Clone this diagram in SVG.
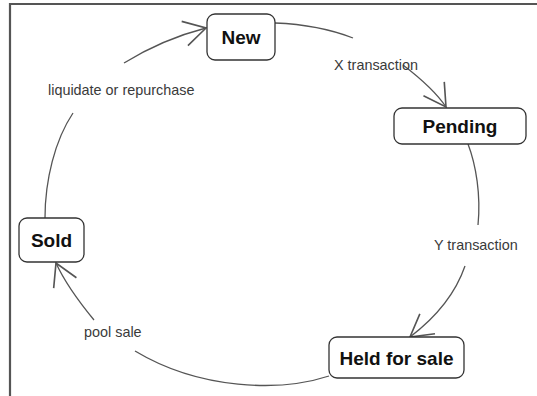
<svg xmlns="http://www.w3.org/2000/svg" width="537" height="396" viewBox="0 0 537 396">
<style>
.frame{stroke:#555;stroke-width:2.2;fill:none}
.box{fill:#fff;stroke:#333;stroke-width:1.3}
.nt{font-family:"Liberation Sans",Arial,sans-serif;font-weight:bold;font-size:19px;fill:#111;text-anchor:middle}
.lbl{font-family:"Liberation Sans",Arial,sans-serif;font-size:14.4px;fill:#3a3a3a}
.edge{fill:none;stroke:#555;stroke-width:1.3}
</style>
<defs>
<marker id="arr" markerUnits="userSpaceOnUse" markerWidth="30" markerHeight="30" refX="0" refY="0" viewBox="-22 -12 24 24" orient="auto" overflow="visible">
<path d="M-17.5,-10 L0,0 L-17.5,10" fill="none" stroke="#555" stroke-width="1.3"/>
</marker>
</defs>
<rect width="537" height="396" fill="#fff"/>
<path class="frame" d="M10,396 V4 H537"/>
<g id="connectors">
<g id="e-sold-new">
<path class="edge" d="M45,218 C45,180 55,140 73,113"/>
<path class="edge" d="M124,63 C150,47 175,36 206,28" marker-end="url(#arr)"/>
<text class="lbl" x="48" y="95">liquidate or repurchase</text>
</g>
<g id="e-new-pending">
<path class="edge" d="M275,23 C300,24 330,29 353,38"/>
<path class="edge" d="M403,65 C420,78 436,92 446,107" marker-end="url(#arr)"/>
<text class="lbl" x="334" y="70">X transaction</text>
</g>
<g id="e-pending-held">
<path class="edge" d="M468,144 C476,165 481,195 478,225"/>
<path class="edge" d="M465,266 C455,295 435,318 410,337" marker-end="url(#arr)"/>
<text class="lbl" x="434" y="250">Y transaction</text>
</g>
<g id="e-held-sold">
<path class="edge" d="M329,376 C280,392 200,390 135,351"/>
<path class="edge" d="M94,320 C80,303 66,285 56,263" marker-end="url(#arr)"/>
<text class="lbl" x="84" y="337">pool sale</text>
</g>
</g>
<g id="new">
<rect class="box" x="207" y="14" width="68" height="46" rx="8"/>
<text class="nt" x="241" y="44">New</text>
</g>
<g id="pending">
<rect class="box" x="394" y="108" width="132" height="36" rx="8"/>
<text class="nt" x="460" y="133">Pending</text>
</g>
<g id="sold">
<rect class="box" x="19" y="218" width="65" height="44" rx="8"/>
<text class="nt" x="51.5" y="247">Sold</text>
</g>
<g id="held">
<rect class="box" x="329" y="337" width="135" height="41" rx="8"/>
<text class="nt" x="396.5" y="365">Held for sale</text>
</g>
</svg>
